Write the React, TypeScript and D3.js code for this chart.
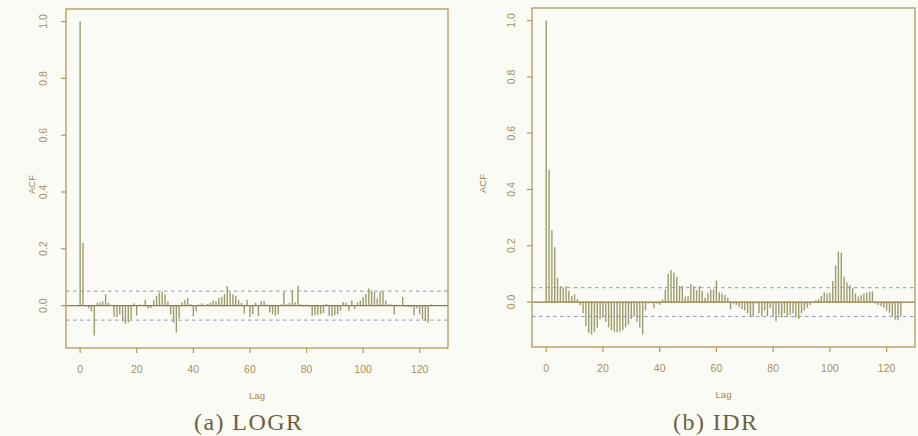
import React from "react";
import * as d3 from "d3";

// ACF values by lag (lag = index, 0..125)
const logrAcf = [
  1.0, 0.22, -0.005, -0.01, -0.02, -0.105, 0.01, 0.012, 0.015, 0.04,
  0.01, 0.003, -0.038, -0.04, -0.03, -0.055, -0.065, -0.06, -0.047, 0.008,
  -0.035, 0.004, 0.003, 0.02, -0.01, -0.008, 0.02, 0.035, 0.045, 0.05,
  0.04, 0.015, -0.03, -0.06, -0.095, -0.045, 0.012, 0.02, 0.027, 0.006,
  -0.038, -0.02, 0.004, 0.008, 0.003, 0.006, 0.01, 0.018, 0.015, 0.027,
  0.03, 0.04, 0.068, 0.047, 0.04, 0.035, 0.02, 0.01, -0.028, 0.02,
  -0.04, -0.03, 0.01, -0.036, 0.015, 0.015, 0.004, -0.024, -0.03, -0.036,
  -0.03, 0.004, 0.048, 0.005, 0.01, 0.053, 0.012, 0.07, 0.005, -0.004,
  0.004, -0.005, -0.036, -0.034, -0.032, -0.03, -0.026, 0.006, -0.036, -0.038,
  -0.034, -0.03, -0.018, 0.012, 0.01, -0.018, 0.018, -0.012, 0.012, 0.018,
  0.03, 0.042, 0.06, 0.053, 0.048, 0.026, 0.05, 0.048, 0.018, 0.005,
  0.004, -0.03, 0.003, 0.002, 0.03, -0.004, -0.005, -0.006, -0.035, -0.01,
  -0.03, -0.048, -0.054, -0.06, 0.005, 0.003,
];

const idrAcf = [
  1.0, 0.47, 0.255, 0.195, 0.085, 0.057, 0.05, 0.057, 0.04, 0.022,
  0.028, 0.01, -0.01, -0.04, -0.085, -0.11, -0.115, -0.105, -0.09, -0.06,
  -0.055, -0.07, -0.09, -0.1, -0.105, -0.107, -0.105, -0.1, -0.09, -0.08,
  -0.06, -0.05, -0.07, -0.09, -0.115, -0.03, -0.005, -0.003, -0.02, -0.005,
  -0.01, 0.008, 0.045, 0.1, 0.113, 0.105, 0.09, 0.057, 0.057, 0.02,
  0.022, 0.063, 0.057, 0.042, 0.057, 0.04, 0.015, 0.033, 0.045, 0.045,
  0.077, 0.035, 0.03, 0.025, 0.015, -0.025, -0.005, -0.01, -0.018, -0.025,
  -0.03, -0.04, -0.05, -0.052, -0.005, -0.04, -0.05, -0.03, -0.05, -0.02,
  -0.05, -0.068, -0.045, -0.055, -0.04, -0.05, -0.045, -0.04, -0.055, -0.06,
  -0.04, -0.03, -0.02, -0.01, 0.003, 0.006, 0.01, 0.022, 0.035, 0.03,
  0.033, 0.075, 0.13, 0.18, 0.175, 0.09, 0.07, 0.06, 0.05, 0.03,
  0.02, 0.025, 0.03, 0.033, 0.036, 0.038, -0.005, -0.01, -0.015, -0.02,
  -0.03, -0.038, -0.05, -0.062, -0.065, -0.05,
];

const xTicks = [0, 20, 40, 60, 80, 100, 120];
const yTicks = [0.0, 0.2, 0.4, 0.6, 0.8, 1.0];
const ciBound = 0.051;
const captions = ["(a) LOGR", "(b) IDR"];
const xTitle = "Lag";
const yTitle = "ACF";

const C = {
  frame: "#b2985a",
  bar: "#9d9b6b",
  zero: "#8f7c3e",
  ci: "#8f95bb",
  tick: "#a68f5e",
  title: "#9c8852",
  caption: "#6f5f3d",
};

type PanelProps = {
  values: number[];
  x0: number;
  x1: number;
  y0: number;
  y1: number;
  caption: string;
  captionX: number;
  captionW: number;
  yTitleX: number;
  yLabelX: number;
};

function Panel({ values, x0, x1, y0, y1, caption, captionX, captionW, yTitleX, yLabelX }: PanelProps) {
  const lagMax = values.length - 1;
  const xr = lagMax * 0.04;
  const x = d3.scaleLinear().domain([-xr, lagMax + xr]).range([x0, x1]);
  const lo = Math.min(d3.min(values) as number, -ciBound);
  const hi = Math.max(d3.max(values) as number, ciBound);
  const yr = (hi - lo) * 0.04;
  const y = d3.scaleLinear().domain([lo - yr, hi + yr]).range([y1, y0]);
  const font = "'Liberation Sans', Arial, sans-serif";
  return (
    <g>
      {[ciBound, -ciBound].map((c, i) => (
        <line key={"ci" + i} x1={x0} x2={x1} y1={y(c)} y2={y(c)} stroke={C.ci} strokeWidth={1} strokeDasharray="3.5,3.5" />
      ))}
      {values.map((v, i) => (
        <line key={"b" + i} x1={x(i)} x2={x(i)} y1={y(0)} y2={y(v)} stroke={C.bar} strokeWidth={1.4} />
      ))}
      <line x1={x0} x2={x1} y1={y(0)} y2={y(0)} stroke={C.zero} strokeWidth={1.2} />
      <rect x={x0} y={y0} width={x1 - x0} height={y1 - y0} fill="none" stroke={C.frame} strokeWidth={1.3} />
      {xTicks.map((t) => (
        <g key={"xt" + t}>
          <line x1={x(t)} x2={x(t)} y1={y1} y2={y1 + 5} stroke={C.frame} strokeWidth={1.2} />
          <text x={x(t)} y={y1 + 25} textAnchor="middle" fontSize={10.5} fontFamily={font} fill={C.tick}>
            {t}
          </text>
        </g>
      ))}
      {yTicks.map((t) => (
        <g key={"yt" + t}>
          <line x1={x0 - 5} x2={x0} y1={y(t)} y2={y(t)} stroke={C.frame} strokeWidth={1.2} />
          <text
            transform={`translate(${yLabelX},${y(t)}) rotate(-90)`}
            textAnchor="middle"
            fontSize={10.5}
            fontFamily={font}
            fill={C.tick}
          >
            {t.toFixed(1)}
          </text>
        </g>
      ))}
      <text x={(x0 + x1) / 2} y={y1 + 51} textAnchor="middle" fontSize={9.5} fontFamily={font} fill={C.title}>
        {xTitle}
      </text>
      <text
        transform={`translate(${yTitleX},${(y0 + y1) / 2 + 6}) rotate(-90)`}
        textAnchor="middle"
        fontSize={9.5}
        fontFamily={font}
        fill={C.title}
      >
        {yTitle}
      </text>
      <text
        x={captionX}
        y={430}
        textAnchor="middle"
        fontSize={24}
        textLength={captionW}
        lengthAdjust="spacing"
        fontFamily="'Liberation Serif', 'DejaVu Serif', serif"
        fill={C.caption}
      >
        {caption}
      </text>
    </g>
  );
}

export default function App() {
  return (
    <svg
      width={918}
      height={436}
      style={{ position: "absolute", left: 0, top: 0, background: "#fbfbf6" }}
    >
      <rect x={0} y={0} width={918} height={436} fill="#fbfbf6" />
      <Panel values={logrAcf} x0={66} x1={448} y0={9} y1={348} caption={captions[0]} captionX={248} captionW={108} yTitleX={35} yLabelX={47} />
      <Panel values={idrAcf} x0={532} x1={915} y0={8} y1={347} caption={captions[1]} captionX={715} captionW={84} yTitleX={486} yLabelX={515} />
    </svg>
  );
}
